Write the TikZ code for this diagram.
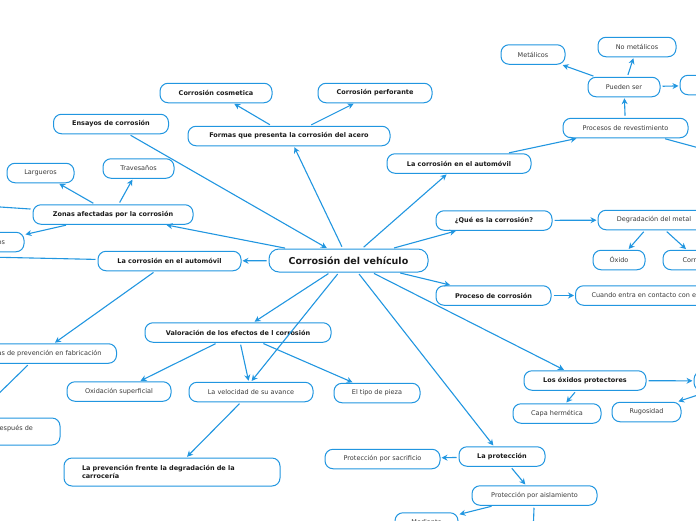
\documentclass[tikz,border=0pt]{standalone}
\usepackage{fontspec}
\setmainfont{DejaVu Sans}
\usepackage{xcolor}
\usepackage{tikz}
\usetikzlibrary{arrows.meta}
\definecolor{mapblue}{HTML}{2196E0}
\definecolor{ink}{HTML}{1A1A1A}
\definecolor{soft}{HTML}{3A3A3A}
\tikzset{
  topic/.style={rectangle, rounded corners=8pt, draw=mapblue, line width=1pt, fill=white, text=ink, font=\bfseries\fontsize{6.5}{8}\selectfont, minimum height=19.5pt, inner sep=2pt},
  leaf/.style={topic, text=soft, font=\fontsize{6.5}{8}\selectfont},
  root/.style={topic, font=\bfseries\fontsize{9.5}{11}\selectfont, minimum height=23pt, rounded corners=10pt},
  arr/.style={-{Stealth[length=6pt,width=6pt]}, line width=1.1pt, mapblue, shorten >=1pt, shorten <=2pt},
}

\begin{document}
\begin{tikzpicture}[x=1pt, y=-1pt]
\useasboundingbox (0,0) rectangle (696,520);
\clip (0,0) rectangle (696,520);
\node[root, minimum width=159pt] (car) at (348.5,260.5) {Corrosión del vehículo};
% upper left
\node[topic, minimum width=202pt] (forms) at (289,136) {Formas que presenta la corrosión del acero};
\node[topic, minimum width=112pt] (cosm) at (216,93) {Corrosión cosmetica};
\node[topic, minimum width=114pt] (perf) at (375,93) {Corrosión perforante};
\node[topic, minimum width=115pt] (tests) at (111,124) {Ensayos de corrosión};
\node[topic, minimum width=160pt] (zones) at (113,214.5) {Zonas afectadas por la corrosión};
\node[leaf, minimum width=67pt] (rails) at (40.5,173) {Largueros};
\node[leaf, minimum width=71pt] (cross) at (138.5,168.5) {Travesaños};
\node[leaf, minimum width=64pt] (steps) at (-8,242) {Estribos};
\coordinate (zonesx) at (-120,199);
% left
\node[topic, minimum width=143pt] (autoL) at (169.5,261) {La corrosión en el automóvil};
\coordinate (autox) at (-60,256);
\node[leaf, anchor=east, inner xsep=15pt] (prevfab) at (117,353.5) {Medidas de prevención en fabricación};
\node[leaf, minimum width=200pt, minimum height=27pt, align=left] (prevpost) at (-40,431.5) {Medidas de protección aplicadas después de\\la fabricación};
% lower left
\node[topic, minimum width=186pt] (assess) at (238,332.5) {Valoración de los efectos de l corrosión};
\node[leaf, minimum width=104pt] (surf) at (119,391.5) {Oxidación superficial};
\node[leaf, minimum width=124pt] (speed) at (251,392) {La velocidad de su avance};
\node[leaf, minimum width=86pt] (piece) at (377,393) {El tipo de pieza};
\node[topic, minimum width=216pt, minimum height=28pt, text width=180pt, align=left] (guard) at (172,472) {La prevención frente la degradación de la\\carrocería};
% upper right
\node[topic, minimum width=144pt] (autoR) at (459,163.5) {La corrosión en el automóvil};
\node[leaf, minimum width=125pt] (coat) at (625.5,128) {Procesos de revestimiento};
\node[leaf, minimum width=72pt] (kinds) at (624,87) {Pueden ser};
\node[leaf, minimum width=64pt] (metal) at (533,54.5) {Metálicos};
\node[leaf, minimum width=78pt] (nonmetal) at (637,47) {No metálicos};
\node[leaf, minimum width=90pt] (kindx) at (725,85) {};
\coordinate (coatx) at (780,170);
% right
\node[topic, minimum width=116pt] (what) at (494,220.5) {¿Qué es la corrosión?};
\node[leaf, minimum width=112pt] (degr) at (654,220) {Degradación del metal};
\node[leaf, minimum width=52pt] (rust) at (619,260) {Óxido};
\node[leaf, minimum width=70pt] (corr) at (698,260) {Corrosión};
\node[topic, minimum width=115pt] (proc) at (493.5,295.5) {Proceso de corrosión};
\node[leaf, anchor=west, inner xsep=16pt] (contact) at (575,295.5) {Cuando entra en contacto con el oxígeno};
% lower right
\node[topic, minimum width=122pt] (shield) at (585,380.5) {Los óxidos protectores};
\node[leaf, minimum width=92pt] (oxx) at (740,381) {};
\node[leaf, minimum width=88pt] (seal) at (557,413.5) {Capa hermética};
\node[leaf, minimum width=69pt] (rough) at (646.5,412) {Rugosidad};
\node[topic, minimum width=86pt] (prot) at (502,456.5) {La protección};
\node[leaf, minimum width=115pt] (sacr) at (382.5,459) {Protección por sacrificio};
\node[leaf, minimum width=125pt] (insul) at (534.5,495.5) {Protección por aislamiento};
\node[leaf, minimum width=63pt] (means) at (426.5,522.5) {Mediante};
\coordinate (insulx) at (532,560);

\draw[arr] (car) -- (forms);
\draw[arr] (forms) -- (cosm);
\draw[arr] (forms) -- (perf);
\draw[arr] (tests) -- (car);
\draw[arr] (car) -- (zones);
\draw[arr] (zones) -- (rails);
\draw[arr] (zones) -- (cross);
\draw[arr] (zones) -- (steps);
\draw[arr] (zones) -- (zonesx);
\draw[arr] (car) -- (autoL);
\draw[arr] (autoL) -- (autox);
\draw[arr] (autoL) -- (prevfab);
\draw[arr] (prevfab) -- (prevpost);
\draw[arr] (car) -- (assess);
\draw[arr] (car) -- (speed.north);
\draw[arr] (assess) -- (surf);
\draw[arr] (assess) -- (speed);
\draw[arr] (assess) -- (piece);
\draw[arr] (speed) -- (guard);
\draw[arr] (car) -- (autoR);
\draw[arr] (autoR) -- (coat);
\draw[arr] (coat) -- (kinds);
\draw[arr] (kinds) -- (metal);
\draw[arr] (kinds) -- (nonmetal);
\draw[arr] (kinds) -- (kindx);
\draw[arr] (coat) -- (coatx);
\draw[arr] (car) -- (what);
\draw[arr] (what) -- (degr);
\draw[arr] (degr) -- (rust);
\draw[arr] (degr) -- (corr);
\draw[arr] (car) -- (proc);
\draw[arr] (proc) -- (contact);
\draw[arr] (car) -- (shield);
\draw[arr] (shield) -- (oxx);
\draw[arr] (oxx) -- (rough);
\draw[arr] (shield) -- (seal);
\draw[arr] (car) -- (prot);
\draw[arr] (prot) -- (sacr);
\draw[arr] (prot) -- (insul);
\draw[arr] (insul) -- (means);
\draw[arr] (insul) -- (insulx);
\end{tikzpicture}
\end{document}
